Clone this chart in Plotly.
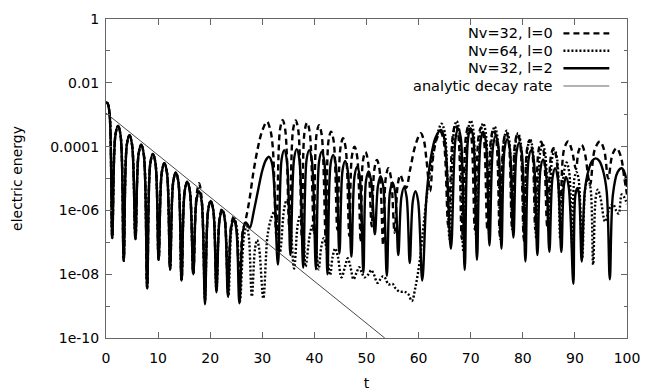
import plotly.graph_objects as go

# ---------------- data (t, log10 of electric energy) ----------------
analytic_t = [0.0, 53.5]
analytic_log10E = [-2.95, -10.0]

# early linear-damping phase, identical for all three runs (t < 17)
early = [(0.0, -2.62), (0.3, -2.64), (0.7, -3.0), (1.2, -6.87),
         (1.8, -3.65), (2.3, -3.35), (2.8, -3.65), (3.4, -7.58),
         (4.0, -3.94), (4.5, -3.64), (5.0, -3.94), (5.65, -6.9),
         (6.25, -4.24), (6.75, -3.94), (7.25, -4.24), (7.9, -8.44),
         (8.5, -4.53), (9.0, -4.23), (9.5, -4.53), (10.1, -7.55),
         (10.7, -4.82), (11.2, -4.52), (11.7, -4.82), (12.3, -7.85),
         (12.9, -5.11), (13.4, -4.81), (13.9, -5.11), (14.5, -8.2),
         (15.1, -5.4), (15.6, -5.1), (16.1, -5.4), (16.75, -8.0)]

# Nv=32, l=2 (solid)
solid_rest = [(17.35, -5.7), (17.85, -5.4), (18.35, -5.7), (19.0, -8.94),
              (19.6, -6.0), (20.1, -5.7), (20.6, -6.0), (21.2, -8.57),
              (21.8, -6.29), (22.3, -5.99), (22.8, -6.29), (23.4, -8.7),
              (24.0, -6.57), (24.5, -6.27), (25.0, -6.57), (25.6, -8.91),
              (26.3, -6.65), (26.8, -6.38), (27.2, -6.45), (27.6, -6.55),
              (28.4, -6.0), (29.2, -5.36), (30.0, -4.75), (30.7, -4.42), (31.3, -4.32), (31.9, -4.55), (33.0, -7.7),
              (33.7, -4.41), (34.2, -4.11), (34.7, -4.41), (35.4, -7.4),
              (36.1, -4.38), (36.6, -4.08), (37.1, -4.38), (37.85, -7.8),
              (38.5, -4.41), (39.0, -4.11), (39.5, -4.41), (40.3, -7.85),
              (40.9, -4.46), (41.4, -4.16), (41.9, -4.46), (42.5, -8.0),
              (43.1, -4.56), (43.6, -4.26), (44.1, -4.56), (44.8, -7.35),
              (45.4, -4.75), (45.9, -4.45), (46.4, -4.75), (47.1, -7.45),
              (47.7, -4.93), (48.2, -4.63), (48.7, -4.93), (49.4, -7.95),
              (49.9, -5.08), (50.4, -4.78), (50.9, -5.08), (51.6, -6.75),
              (52.2, -5.23), (52.7, -4.93), (53.2, -5.23), (53.9, -8.05),
              (54.5, -5.42), (55.0, -5.12), (55.5, -5.42), (56.1, -7.4),
              (56.7, -5.58), (57.2, -5.28), (57.7, -5.58), (58.3, -7.65),
              (58.9, -5.7), (59.4, -5.4), (59.9, -5.7), (60.7, -8.2),
              (61.5, -5.6), (62.3, -4.4), (63.3, -3.7), (64.3, -3.48), (65.0, -3.8), (66.2, -7.2),
              (67.1, -3.73), (67.6, -3.43), (68.1, -3.73), (68.85, -7.87),
              (69.5, -3.73), (70.0, -3.43), (70.5, -3.73), (71.2, -7.55),
              (71.9, -3.83), (72.4, -3.53), (72.9, -3.83), (73.6, -7.1),
              (74.3, -3.97), (74.8, -3.67), (75.3, -3.97), (75.9, -7.2),
              (76.5, -4.07), (77.0, -3.77), (77.5, -4.07), (78.2, -6.85),
              (78.8, -4.18), (79.3, -3.88), (79.8, -4.18), (80.5, -7.6),
              (81.1, -4.41), (81.6, -4.11), (82.1, -4.41), (82.8, -7.4),
              (83.4, -4.7), (83.9, -4.4), (84.4, -4.7), (85.1, -7.3),
              (85.7, -4.98), (86.2, -4.68), (86.7, -4.98), (87.4, -7.3),
              (87.9, -5.2), (88.3, -4.95), (88.8, -5.25), (89.7, -8.3),
              (90.1, -5.5), (90.5, -5.3), (90.8, -5.5), (91.3, -7.6),
              (91.9, -5.4), (92.6, -4.75), (93.3, -4.45), (94.0, -4.37), (94.7, -4.45), (95.4, -4.75), (96.1, -5.4), (96.7, -8.16),
              (97.3, -5.5), (98.2, -4.8), (99.0, -4.68), (99.6, -4.85), (100.0, -5.26)]

# Nv=32, l=0 (dashed)
dashed_rest = [(17.35, -5.6), (17.85, -5.15), (18.35, -5.6), (19.0, -8.5),
               (19.6, -6.0), (20.1, -5.7), (20.6, -6.0), (21.2, -8.3),
               (21.8, -6.25), (22.3, -5.95), (22.8, -6.25), (23.4, -8.4),
               (24.0, -6.5), (24.5, -6.2), (25.0, -6.5), (25.6, -8.3),
               (26.2, -6.7), (26.8, -6.3), (27.5, -5.7), (28.3, -4.8), (29.2, -4.0), (30.0, -3.5), (30.9, -3.22),
               (31.5, -3.45), (32.0, -4.0), (32.7, -6.8),
               (33.4, -3.47), (33.9, -3.17), (34.4, -3.47), (35.2, -6.6),
               (35.9, -3.48), (36.4, -3.18), (36.9, -3.48), (37.6, -6.9),
               (38.1, -3.55), (38.6, -3.25), (39.1, -3.55), (39.9, -6.7),
               (40.4, -3.63), (40.9, -3.33), (41.4, -3.63), (42.2, -7.0),
               (42.7, -3.83), (43.2, -3.53), (43.7, -3.83), (44.4, -6.6),
               (45.0, -4.04), (45.5, -3.74), (46.0, -4.04), (46.7, -6.8),
               (47.2, -4.3), (47.7, -4.0), (48.2, -4.3), (48.9, -7.0),
               (49.3, -4.47), (49.8, -4.17), (50.3, -4.47), (51.0, -6.5),
               (51.5, -4.72), (52.0, -4.42), (52.5, -4.72), (53.2, -7.1),
               (53.7, -4.98), (54.2, -4.68), (54.7, -4.98), (55.4, -6.7),
               (56.0, -5.19), (56.5, -4.89), (57.0, -5.1), (57.6, -5.3),
               (58.4, -4.7), (59.4, -3.95), (60.4, -3.58), (61.0, -3.8), (61.5, -4.4), (62.2, -5.4),
               (62.8, -4.3), (63.5, -3.75), (64.2, -3.55), (64.8, -3.8), (65.7, -6.5),
               (66.6, -3.6), (67.1, -3.3), (67.6, -3.6), (68.3, -6.9),
               (69.1, -3.65), (69.6, -3.35), (70.1, -3.65), (70.8, -6.6),
               (71.5, -3.7), (72.0, -3.4), (72.5, -3.7), (73.2, -6.6),
               (73.9, -3.75), (74.4, -3.45), (74.9, -3.75), (75.6, -6.8),
               (76.3, -3.85), (76.8, -3.55), (77.3, -3.85), (77.9, -6.5),
               (78.5, -3.9), (79.0, -3.6), (79.5, -3.9), (80.2, -6.9),
               (80.8, -4.1), (81.3, -3.8), (81.8, -4.1), (82.4, -6.6),
               (83.0, -4.15), (83.5, -3.85), (84.0, -4.15), (84.7, -6.5),
               (85.4, -4.3), (85.9, -4.05), (86.4, -4.3), (87.2, -5.8),
               (87.9, -4.1), (88.7, -3.84), (89.4, -4.1), (90.2, -4.7),
               (90.7, -4.15), (91.3, -3.95), (91.9, -4.2), (92.9, -5.2),
               (93.8, -4.1), (94.8, -3.84), (95.6, -4.1), (96.4, -5.0),
               (97.2, -4.25), (98.0, -4.05), (98.8, -4.3), (99.5, -5.0), (100.0, -5.5)]

# Nv=64, l=0 (dotted)
dotted_rest = [(17.35, -5.7), (17.85, -5.4), (18.35, -5.7), (19.0, -8.8),
               (19.6, -6.0), (20.1, -5.7), (20.6, -6.0), (21.2, -8.5),
               (21.8, -6.27), (22.3, -5.97), (22.8, -6.27), (23.5, -8.7),
               (24.1, -6.55), (24.6, -6.25), (25.1, -6.55), (25.7, -8.86),
               (26.5, -6.8), (27.0, -6.5), (27.4, -6.8), (28.0, -8.7),
               (28.6, -7.2), (29.0, -6.93), (29.4, -7.2), (30.2, -8.76),
               (31.0, -6.8), (31.7, -6.25), (32.3, -6.05), (32.8, -6.35), (33.4, -7.3),
               (34.2, -5.95), (34.7, -5.67), (35.2, -5.97), (36.1, -7.82),
               (36.8, -6.44), (37.3, -6.14), (37.8, -6.44), (38.3, -7.76),
               (39.1, -6.78), (39.6, -6.48), (40.1, -6.78), (40.8, -7.85),
               (41.3, -7.17), (41.8, -6.87), (42.3, -7.17), (43.0, -8.03),
               (43.5, -7.45), (44.0, -7.19), (44.5, -7.45), (45.2, -8.1),
               (45.9, -7.75), (46.4, -7.5), (46.9, -7.75), (47.5, -8.16),
               (48.1, -7.95), (48.6, -7.78), (49.1, -7.95), (49.6, -8.1),
               (50.4, -8.0), (50.9, -7.87), (51.4, -8.0), (52.1, -8.27),
               (52.7, -8.15), (53.2, -8.06), (53.7, -8.15), (54.2, -8.32),
               (55.0, -8.3), (55.6, -8.45), (56.4, -8.55), (57.3, -8.55), (58.0, -8.62), (58.7, -8.84),
               (59.4, -8.4), (60.2, -7.6), (61.0, -6.4), (62.0, -5.0), (63.0, -4.0), (63.8, -3.5),
               (64.4, -3.28), (65.0, -3.55), (65.95, -6.9),
               (66.8, -3.5), (67.3, -3.2), (67.8, -3.5), (68.6, -7.3),
               (69.5, -3.48), (70.0, -3.18), (70.5, -3.48), (71.1, -6.9),
               (71.9, -3.57), (72.4, -3.27), (72.9, -3.57), (73.5, -6.7),
               (74.1, -3.67), (74.6, -3.37), (75.1, -3.67), (75.7, -6.9),
               (76.4, -3.8), (76.9, -3.5), (77.4, -3.8), (78.0, -6.6),
               (78.6, -3.88), (79.1, -3.58), (79.6, -3.88), (80.3, -7.0),
               (80.9, -4.07), (81.4, -3.77), (81.9, -4.07), (82.6, -6.9),
               (83.3, -4.22), (83.8, -3.92), (84.3, -4.22), (85.0, -6.6),
               (85.6, -4.4), (86.1, -4.1), (86.6, -4.4), (87.2, -6.9),
               (87.9, -4.8), (88.4, -4.5), (88.9, -4.8), (89.5, -7.2),
               (89.9, -5.0), (90.3, -4.8), (90.7, -5.0), (91.4, -7.5),
               (92.0, -5.3), (92.5, -5.0), (93.0, -5.3), (93.5, -7.7),
               (94.0, -5.6), (94.4, -5.35), (94.9, -5.6), (95.8, -6.35),
               (96.6, -5.95), (97.3, -5.8), (97.9, -6.0), (98.4, -6.1), (99.0, -5.5), (99.5, -5.6), (100.0, -5.8)]

legend_labels = ["Nv=32, l=0", "Nv=64, l=0", "Nv=32, l=2", "analytic decay rate"]
ytick_vals = [1, 1e-2, 1e-4, 1e-6, 1e-8, 1e-10]
ytick_text = ["1", "0.01", "0.0001", "1e-06", "1e-08", "1e-10"]
yminor_vals = [1e-1, 1e-3, 1e-5, 1e-7, 1e-9]
xtick_vals = [0, 10, 20, 30, 40, 50, 60, 70, 80, 90, 100]

# ---------------- figure ----------------
FONT = "DejaVu Sans"


def unzip(points):
    return [p[0] for p in points], [10 ** p[1] for p in points]


series = [
    (early + dashed_rest, "6px,4px", 2.4, "black"),
    (early + dotted_rest, "2px,2px", 2.4, "black"),
    (early + solid_rest, "solid", 2.4, "black"),
]

fig = go.Figure()
for pts, dash, w, col in series:
    t, e = unzip(pts)
    fig.add_trace(go.Scatter(x=t, y=e, mode="lines", showlegend=False,
                             line=dict(color=col, width=w, dash=dash, shape="spline", smoothing=1.0)))

fig.add_trace(go.Scatter(x=analytic_t, y=[10 ** v for v in analytic_log10E], mode="lines",
                         showlegend=False, line=dict(color="#333333", width=0.9)))

# legend: text right-aligned, sample line to the right (gnuplot style)
leg_rows = [0.955, 0.9005, 0.8455, 0.79]
leg_styles = [("6px,4px", 2.4, "black"), ("2px,2px", 2.4, "black"), ("solid", 2.4, "black"), ("solid", 0.9, "#555555")]
for lab, yy, (dash, w, col) in zip(legend_labels, leg_rows, leg_styles):
    fig.add_annotation(x=0.862, y=yy, xref="paper", yref="paper", text=lab, showarrow=False,
                       xanchor="right", yanchor="middle", font=dict(family=FONT, size=14.5, color="black"))
    fig.add_shape(type="line", xref="paper", yref="paper", x0=0.878, x1=0.966, y0=yy, y1=yy,
                  line=dict(color=col, width=w, dash=dash))

axcol = "#666666"
# the page body adds an 8px offset, so the margins are reduced accordingly
fig.update_layout(
    width=654, height=392,
    margin=dict(l=98, r=35, t=11, b=62),
    paper_bgcolor="white", plot_bgcolor="white",
    font=dict(family=FONT, size=14, color="black"),
    showlegend=False,
)
fig.update_xaxes(range=[0, 100], tickvals=xtick_vals, ticks="inside", ticklen=6, tickwidth=1,
                 tickcolor=axcol, showline=True, linecolor=axcol, linewidth=1, mirror="allticks",
                 showgrid=False, zeroline=False, tickfont=dict(family=FONT, size=14, color="black"),
                 ticklabelstandoff=7,
                 title=dict(text="t", standoff=13, font=dict(family=FONT, size=14, color="black")),
                 automargin=False)
fig.update_yaxes(type="log", range=[-10, 0], tickvals=ytick_vals, ticktext=ytick_text,
                 ticks="inside", ticklen=6, tickwidth=1, tickcolor=axcol,
                 minor=dict(tickvals=yminor_vals, ticks="inside", ticklen=3.5, tickcolor=axcol, showgrid=False),
                 showline=True, linecolor=axcol, linewidth=1, mirror="allticks",
                 showgrid=False, zeroline=False, tickfont=dict(family=FONT, size=14, color="black"),
                 ticklabelstandoff=3,
                 title=dict(text="electric energy", standoff=24, font=dict(family=FONT, size=14, color="black")),
                 automargin=False)

fig.write_html("out.html")
